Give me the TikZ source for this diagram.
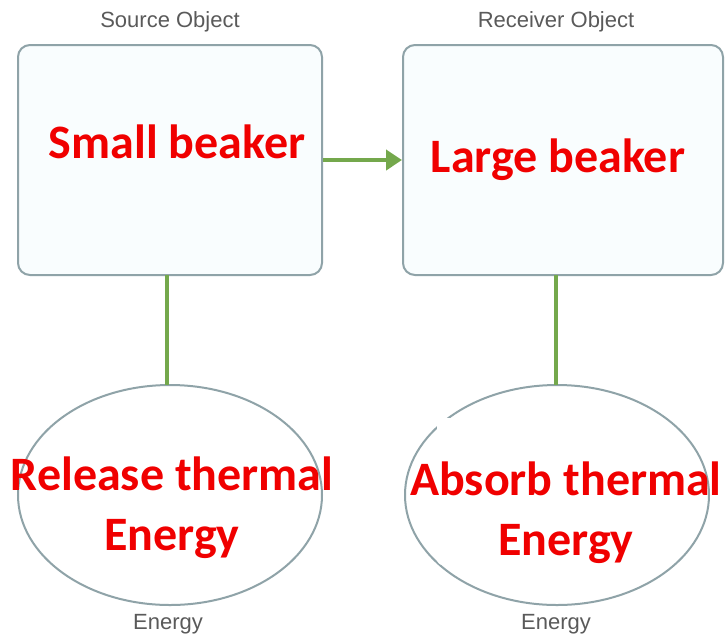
\documentclass[tikz,border=0pt]{standalone}
\usepackage{fontspec}
\setmainfont{Carlito}
\newfontfamily\lblfont{Liberation Sans}
\usetikzlibrary{shapes.geometric,arrows.meta}
\definecolor{edgegray}{HTML}{8FA3A8}
\definecolor{boxfill}{HTML}{F9FDFE}
\definecolor{linkgreen}{HTML}{74A84C}
\definecolor{lblgray}{HTML}{5A5A5A}
\definecolor{redtxt}{HTML}{F00000}
\begin{document}
\begin{tikzpicture}[x=1pt,y=-1pt,
  objbox/.style={draw=edgegray,line width=2pt,fill=boxfill,rounded corners=12pt,
    minimum width=304pt,minimum height=230pt,inner sep=0pt},
  energyell/.style={ellipse,draw=edgegray,line width=2pt,fill=white,
    minimum width=304pt,minimum height=220pt,inner sep=0pt},
  link/.style={draw=linkgreen,line width=4.5pt},
  lbl/.style={font=\lblfont\fontsize{22}{26}\selectfont,text=lblgray},
  redlbl/.style={font=\bfseries\fontsize{48}{60}\selectfont,text=redtxt,align=center,inner sep=0pt}]
\useasboundingbox (0,0) rectangle (725,638);
\fill[white] (0,0) rectangle (725,638);
% boxes
\node[objbox] (src) at (170,160) {};
\node[objbox,minimum width=320pt] (rcv) at (563,160) {};
% titles
\node[lbl] (srct) at (170,22) {Source Object};
\node[lbl] (rcvt) at (556,22) {Receiver Object};
% ellipses
\node[energyell] (rel) at (170,495) {};
\node[energyell] (abs) at (557,495) {};
% white patch inside right ellipse
\fill[white,rounded corners=6pt] (437,418) rectangle (640,565);
% connectors
\draw[link,-{Triangle[length=16pt,width=20pt]}] (src.east) -- (rcv.west);
\draw[link] (167,275) coordinate (s1) -- (167,385) coordinate (s2);
\draw[link] (556,275) coordinate (r1) -- (556,385) coordinate (r2);
% energy labels
\node[lbl] (e1) at (168,624) {Energy};
\node[lbl] (e2) at (556,624) {Energy};
% red texts
\node[redlbl] (t1) at (177,142) {Small beaker};
\node[redlbl] (t2) at (558,160) {Large beaker};
\node[redlbl] (t3) at (172,508) {Release thermal\\Energy};
\node[redlbl] (t4) at (566,513) {Absorb thermal\\Energy};
\end{tikzpicture}
\end{document}
